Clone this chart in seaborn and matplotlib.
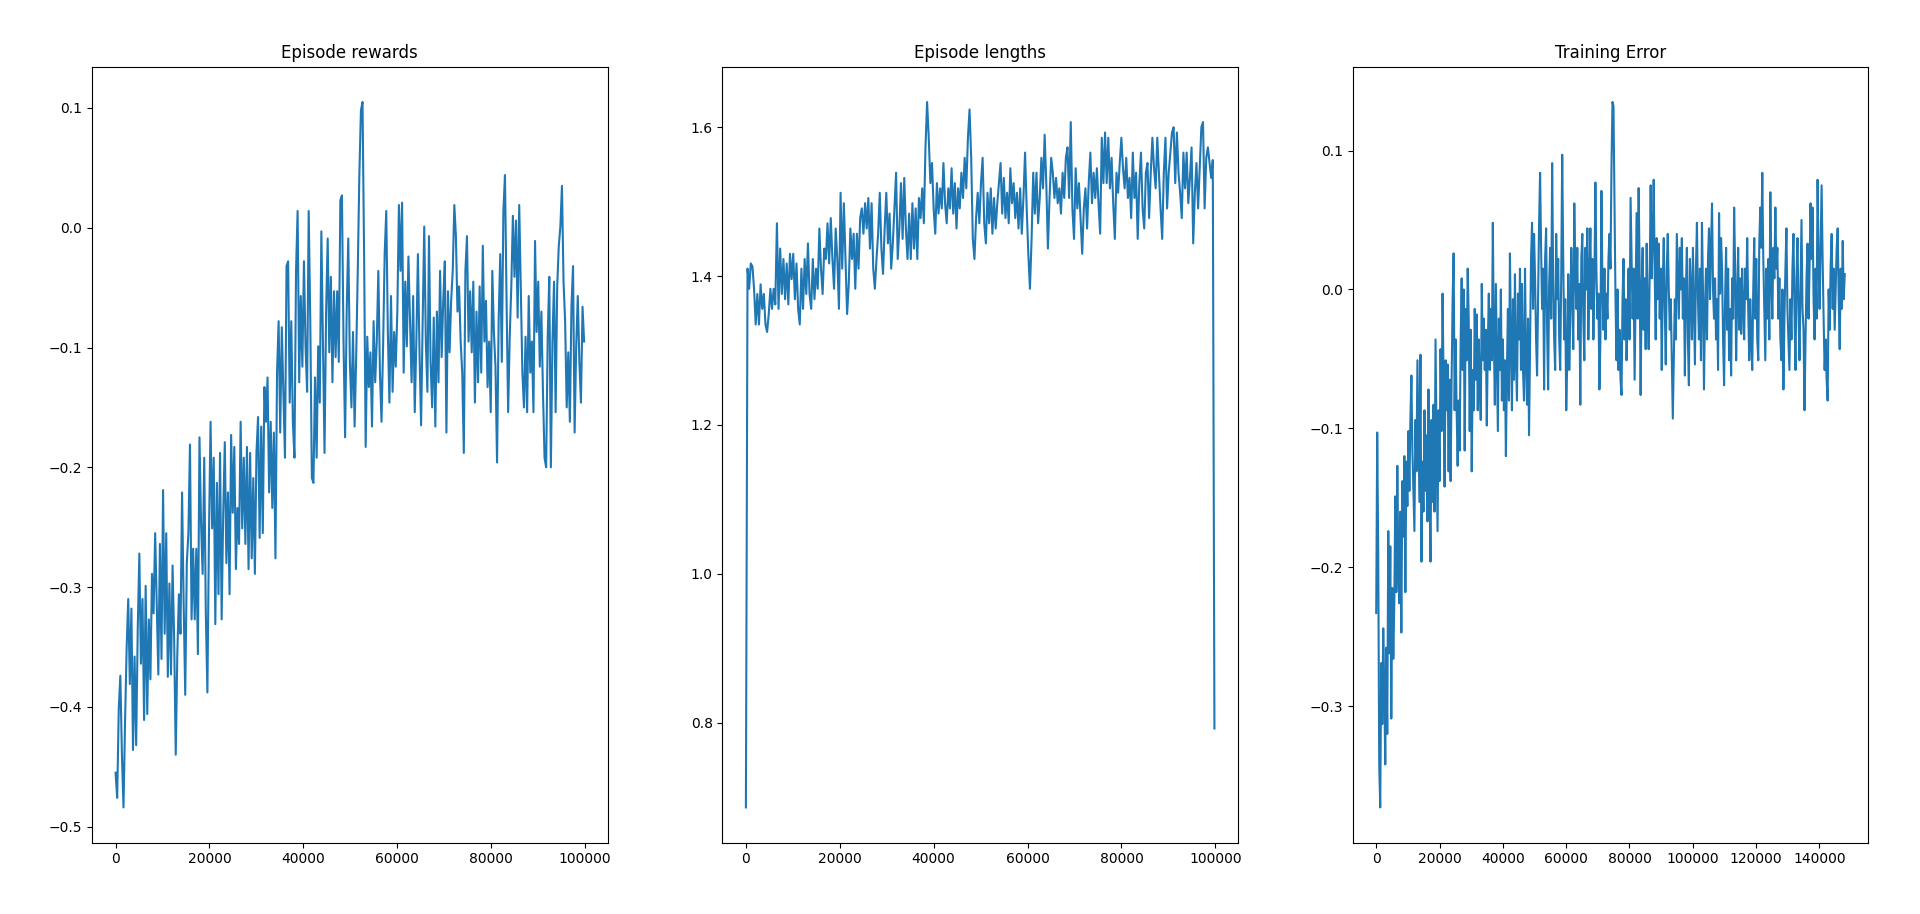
import numpy as np
import matplotlib
matplotlib.use("Agg")
import matplotlib.pyplot as plt
import seaborn as sns

# values, in episode order
rewards = [
    -0.455, -0.476, -0.402, -0.374, -0.44, -0.484, -0.411, -0.35, -0.31, -0.381, -0.318, -0.436,
    -0.358, -0.432, -0.335, -0.272, -0.364, -0.31, -0.411, -0.299, -0.406, -0.327, -0.377, -0.289,
    -0.322, -0.255, -0.314, -0.373, -0.264, -0.36, -0.219, -0.339, -0.255, -0.375, -0.297, -0.373,
    -0.282, -0.343, -0.44, -0.356, -0.306, -0.339, -0.221, -0.314, -0.39, -0.28, -0.255, -0.181,
    -0.327, -0.268, -0.327, -0.268, -0.356, -0.175, -0.247, -0.289, -0.192, -0.322, -0.388, -0.255,
    -0.162, -0.251, -0.192, -0.331, -0.213, -0.306, -0.188, -0.327, -0.238, -0.179, -0.28, -0.221,
    -0.306, -0.173, -0.238, -0.183, -0.285, -0.234, -0.264, -0.162, -0.251, -0.192, -0.264, -0.183,
    -0.285, -0.188, -0.276, -0.209, -0.289, -0.188, -0.158, -0.259, -0.166, -0.255, -0.133, -0.162,
    -0.125, -0.221, -0.162, -0.234, -0.171, -0.276, -0.121, -0.078, -0.171, -0.083, -0.137, -0.192,
    -0.032, -0.028, -0.146, -0.078, -0.162, -0.192, -0.036, 0.014, -0.129, -0.057, -0.116, -0.028,
    -0.099, -0.137, 0.014, -0.078, -0.209, -0.213, -0.125, -0.192, -0.099, -0.146, -0.003, -0.095,
    -0.188, -0.07, -0.009, -0.104, -0.041, -0.129, -0.053, -0.108, -0.053, -0.112, 0.023, 0.027,
    -0.095, -0.175, -0.07, -0.009, -0.112, -0.15, -0.087, -0.166, -0.108, -0.036, 0.044, 0.098,
    0.105, -0.022, -0.183, -0.091, -0.133, -0.104, -0.166, -0.078, -0.129, -0.095, -0.036, -0.121,
    -0.162, -0.099, -0.022, 0.014, -0.087, -0.146, -0.057, -0.137, -0.087, -0.116, -0.07, 0.019,
    -0.036, 0.021, -0.121, -0.045, -0.099, -0.024, -0.075, -0.129, -0.057, -0.154, -0.095, -0.022,
    -0.104, -0.165, -0.078, 0.001, -0.095, -0.137, -0.007, -0.112, -0.15, -0.075, -0.166, -0.07,
    -0.129, -0.036, -0.108, -0.061, -0.028, -0.171, -0.053, -0.104, -0.061, -0.036, 0.019, -0.007,
    -0.07, -0.049, -0.095, -0.121, -0.188, -0.036, -0.007, -0.095, -0.053, -0.104, -0.045, -0.146,
    -0.07, -0.129, -0.049, -0.121, -0.015, -0.095, -0.061, -0.133, -0.095, -0.154, -0.036, -0.087,
    -0.116, -0.196, -0.078, -0.022, -0.112, 0.014, 0.044, -0.061, -0.154, -0.091, -0.049, 0.01,
    -0.041, 0.006, -0.075, 0.019, -0.053, -0.121, -0.15, -0.091, -0.154, -0.057, -0.121, -0.095,
    -0.154, -0.011, -0.087, -0.045, -0.116, -0.07, -0.137, -0.192, -0.2, -0.091, -0.041, -0.2,
    -0.095, -0.045, -0.154, -0.049, -0.015, 0.001, 0.035, -0.045, -0.078, -0.15, -0.104, -0.162,
    -0.066, -0.032, -0.171, -0.099, -0.057, -0.112, -0.146, -0.066, -0.095,
]

lengths = [
    0.686, 1.410, 1.383, 1.417, 1.413, 1.383, 1.335, 1.376, 1.335, 1.389, 1.356, 1.376, 1.335,
    1.325, 1.349, 1.383, 1.356, 1.383, 1.362, 1.471, 1.356, 1.437, 1.376, 1.423, 1.369, 1.417,
    1.362, 1.430, 1.396, 1.430, 1.369, 1.417, 1.356, 1.335, 1.410, 1.356, 1.423, 1.376, 1.444,
    1.376, 1.356, 1.423, 1.369, 1.410, 1.383, 1.464, 1.410, 1.376, 1.437, 1.423, 1.471, 1.417,
    1.478, 1.423, 1.383, 1.464, 1.423, 1.356, 1.512, 1.410, 1.498, 1.423, 1.349, 1.389, 1.464,
    1.423, 1.457, 1.383, 1.457, 1.410, 1.478, 1.491, 1.457, 1.498, 1.464, 1.505, 1.437, 1.498,
    1.410, 1.383, 1.423, 1.457, 1.512, 1.437, 1.403, 1.464, 1.512, 1.444, 1.484, 1.410, 1.444,
    1.491, 1.539, 1.423, 1.464, 1.525, 1.450, 1.532, 1.464, 1.423, 1.484, 1.423, 1.498, 1.437,
    1.491, 1.423, 1.505, 1.478, 1.518, 1.471, 1.573, 1.634, 1.586, 1.525, 1.552, 1.491, 1.457,
    1.525, 1.484, 1.518, 1.491, 1.552, 1.498, 1.471, 1.518, 1.491, 1.545, 1.484, 1.525, 1.464,
    1.518, 1.491, 1.539, 1.505, 1.559, 1.518, 1.586, 1.624, 1.559, 1.450, 1.423, 1.478, 1.512,
    1.471, 1.525, 1.559, 1.471, 1.444, 1.512, 1.471, 1.518, 1.457, 1.505, 1.464, 1.498, 1.525,
    1.552, 1.484, 1.532, 1.478, 1.512, 1.471, 1.545, 1.498, 1.525, 1.478, 1.512, 1.464, 1.518,
    1.457, 1.505, 1.566, 1.491, 1.430, 1.383, 1.450, 1.539, 1.484, 1.539, 1.471, 1.505, 1.559,
    1.518, 1.590, 1.525, 1.437, 1.505, 1.559, 1.539, 1.505, 1.532, 1.498, 1.518, 1.484, 1.539,
    1.505, 1.559, 1.573, 1.505, 1.607, 1.491, 1.450, 1.545, 1.491, 1.525, 1.478, 1.430, 1.491,
    1.518, 1.464, 1.525, 1.566, 1.498, 1.539, 1.505, 1.545, 1.498, 1.457, 1.586, 1.525, 1.593,
    1.525, 1.586, 1.518, 1.559, 1.498, 1.450, 1.539, 1.512, 1.552, 1.586, 1.545, 1.518, 1.559,
    1.505, 1.532, 1.478, 1.566, 1.505, 1.539, 1.450, 1.525, 1.566, 1.491, 1.464, 1.539, 1.552,
    1.478, 1.539, 1.586, 1.545, 1.518, 1.586, 1.539, 1.491, 1.450, 1.539, 1.586, 1.491, 1.539,
    1.566, 1.593, 1.600, 1.525, 1.593, 1.539, 1.512, 1.478, 1.566, 1.518, 1.566, 1.498, 1.532,
    1.573, 1.444, 1.512, 1.552, 1.491, 1.545, 1.600, 1.607, 1.491, 1.559, 1.573, 1.552, 1.532,
    1.556, 0.792,
]

train_error = [
    -0.233, -0.103, -0.189, -0.342, -0.373, -0.269, -0.313, -0.244, -0.287, -0.342, -0.258, -0.320,
    -0.174, -0.262, -0.185, -0.309, -0.215, -0.266, -0.226, -0.149, -0.218, -0.127, -0.2, -0.226,
    -0.16, -0.247, -0.138, -0.178, -0.12, -0.218, -0.124, -0.156, -0.102, -0.145, -0.094, -0.062,
    -0.116, -0.145, -0.174, -0.094, -0.131, -0.051, -0.102, -0.153, -0.047, -0.196, -0.124, -0.16,
    -0.087, -0.145, -0.105, -0.167, -0.072, -0.142, -0.196, -0.094, -0.153, -0.083, -0.16, -0.036,
    -0.105, -0.174, -0.087, -0.138, -0.043, -0.102, -0.003, -0.065, -0.142, -0.051, -0.087, -0.054,
    -0.131, -0.065, -0.138, -0.065, -0.007, 0.026, -0.087, -0.036, -0.087, -0.127, -0.080, -0.116,
    -0.036, 0.008, -0.058, 0.0, -0.116, -0.014, -0.051, 0.015, -0.021, -0.102, -0.029, -0.131,
    -0.058, -0.087, -0.014, -0.065, -0.018, -0.087, -0.036, -0.069, -0.094, 0.004, -0.051, -0.021,
    -0.058, -0.029, -0.098, -0.04, -0.003, -0.058, -0.014, -0.051, 0.048, -0.036, -0.083, 0.004,
    -0.051, -0.102, -0.021, -0.058, 0.0, -0.080, -0.036, -0.087, -0.051, -0.12, -0.058, -0.014,
    -0.080, 0.026, -0.036, -0.087, -0.007, -0.065, 0.011, -0.051, -0.08, -0.003, -0.036, 0.015,
    -0.058, 0.004, -0.058, -0.080, 0.015, -0.051, -0.083, -0.021, -0.105, -0.043, 0.022, 0.048,
    -0.014, 0.040, 0.008, -0.036, -0.062, -0.007, 0.048, 0.084, 0.030, -0.014, 0.015, -0.072,
    0.022, 0.044, -0.029, -0.072, 0.004, 0.030, -0.021, 0.091, 0.008, -0.036, -0.058, 0.040,
    -0.007, 0.022, -0.036, -0.058, 0.008, 0.097, 0.022, -0.036, -0.007, -0.087, -0.051, 0.011,
    -0.058, -0.021, 0.030, -0.003, -0.043, 0.062, 0.015, -0.014, 0.030, -0.036, 0.004, -0.083,
    0.022, 0.040, -0.021, -0.051, 0.030, 0.0, 0.044, -0.036, 0.008, 0.044, -0.014, 0.022,
    -0.036, 0.004, 0.077, 0.015, -0.021, -0.003, -0.072, -0.036, 0.071, 0.004, -0.029, 0.015,
    -0.036, -0.003, -0.021, 0.022, 0.040, 0.015, 0.088, 0.135, 0.132, 0.059, -0.007, -0.051,
    0.0, -0.058, -0.029, -0.065, -0.076, -0.007, 0.022, -0.036, -0.007, -0.051, -0.021, 0.015,
    -0.036, 0.066, 0.022, -0.021, 0.015, -0.065, -0.007, 0.055, -0.021, 0.073, 0.015, -0.076,
    0.0, 0.030, -0.029, 0.008, -0.043, 0.033, -0.014, -0.043, 0.011, 0.075, 0.008, 0.037,
    0.079, 0.011, -0.036, 0.037, -0.007, 0.033, -0.021, 0.015, -0.058, 0.004, 0.037, -0.014,
    -0.054, 0.015, 0.040, 0.0, -0.029, -0.007, -0.051, -0.093, -0.051, -0.007, -0.036, 0.040,
    0.011, -0.021, 0.030, 0.0, 0.037, -0.021, 0.008, -0.062, 0.0, 0.030, -0.036, -0.069,
    0.022, 0.0, -0.036, 0.030, -0.014, -0.054, 0.015, 0.048, -0.007, -0.036, 0.015, -0.051,
    0.048, 0.0, -0.072, -0.014, 0.015, -0.036, 0.022, 0.044, -0.007, 0.030, 0.062, 0.0,
    -0.021, 0.008, -0.036, -0.007, -0.058, 0.055, -0.003, 0.037, 0.015, -0.036, -0.069, -0.007,
    0.030, -0.029, 0.015, -0.051, -0.014, -0.062, 0.008, -0.021, 0.059, 0.015, -0.051, -0.007,
    0.030, -0.029, 0.008, -0.032, 0.015, -0.014, -0.036, 0.015, -0.007, 0.037, -0.014, -0.051,
    -0.007, -0.036, -0.058, 0.0, 0.037, -0.021, 0.022, -0.036, -0.051, 0.033, 0.059, 0.030,
    0.084, 0.022, -0.014, -0.051, 0.015, -0.021, 0.022, -0.036, 0.070, 0.008, -0.021, 0.030,
    0.008, 0.059, 0.015, 0.030, -0.021, 0.008, -0.036, -0.051, 0.0, -0.072, -0.021, 0.015,
    0.044, -0.014, -0.036, -0.058, -0.007, -0.036, 0.015, 0.040, -0.014, -0.058, 0.008, 0.037,
    -0.014, -0.051, 0.0, 0.050, -0.014, -0.029, -0.087, -0.036, 0.008, 0.033, -0.021, 0.015,
    0.062, 0.022, 0.059, -0.007, -0.036, 0.015, -0.021, 0.079, 0.022, -0.014, 0.030, 0.075,
    0.022, -0.021, -0.058, -0.036, -0.065, -0.080, 0.0, -0.029, 0.018, 0.040, -0.014, 0.015,
    -0.029, 0.0, 0.030, 0.044, -0.007, -0.043, 0.015, -0.014, 0.035, -0.007, 0.011,
]

titles = ["Episode rewards", "Episode lengths", "Training Error"]
last_step = [99800, 99800, 148000]

fig, axes = plt.subplots(1, 3, figsize=(19.2, 9.14))
fig.subplots_adjust(left=0.048, right=0.973, bottom=0.078, top=0.927, wspace=0.223)

for ax, series, title, end in zip(axes, [rewards, lengths, train_error], titles, last_step):
    steps = np.linspace(0, end, len(series))
    sns.lineplot(x=steps, y=series, ax=ax, color="#1f77b4", linewidth=1.5)
    ax.set_title(title)

plt.savefig("out.png", dpi=100)
plt.close()
